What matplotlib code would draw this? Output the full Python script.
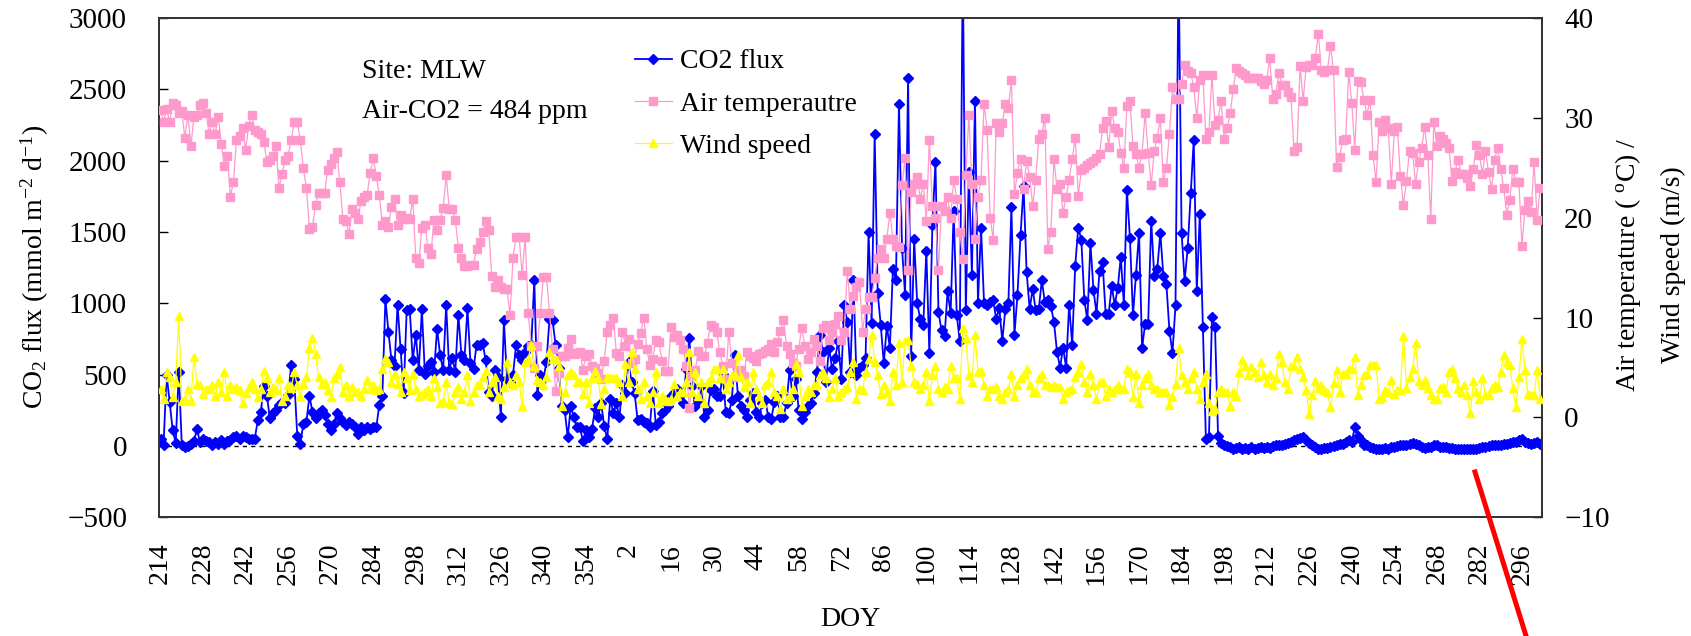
import matplotlib
matplotlib.use('Agg')
import matplotlib.pyplot as plt
from matplotlib.lines import Line2D

plt.rcParams['font.family'] = ['Liberation Serif', 'DejaVu Serif']
plt.rcParams['mathtext.fontset'] = 'custom'
plt.rcParams['mathtext.rm'] = 'Liberation Serif'
plt.rcParams['mathtext.it'] = 'Liberation Serif:italic'

# Day of year: DOY 214-366 of the first year, then DOY 1-302 of the next year
doy = list(range(214, 367)) + list(range(1, 303))

co2_flux = [
    50, 10, 500, 310, 110, 20, 520, 10, -10, 0,
    15, 35, 120, 25, 50, 35, 25, 10, 25, 15,
    45, 15, 35, 45, 60, 70, 50, 70, 60, 50,
    50, 50, 180, 240, 420, 350, 195, 230, 250, 290,
    310, 300, 360, 565, 470, 70, 15, 155, 170, 350,
    240, 195, 230, 250, 215, 155, 110, 155, 230, 195,
    170, 145, 170, 155, 135, 85, 135, 110, 135, 120,
    130, 130, 290, 350, 1030, 800, 600, 560, 990, 680,
    370, 950, 960, 600, 780, 530, 960, 506, 560, 590,
    520, 820, 640, 530, 990, 530, 615, 520, 920, 640,
    600, 965, 580, 540, 710, 710, 720, 600, 375, 350,
    530, 480, 205, 880, 470, 450, 500, 710, 640, 600,
    660, 700, 710, 1160, 360, 500, 470, 590, 890, 880,
    710, 550, 280, 250, 60, 280, 200, 130, 130, 36,
    110, 60, 120, 265, 205, 300, 140, 48, 330, 230,
    300, 200, 430, 370, 590, 450, 370, 180, 190, 170,
    160, 135, 385, 150, 170, 230, 250, 280, 350, 370,
    400, 375, 300, 540, 760, 420, 280, 320, 420, 200,
    250, 390, 400, 350, 350, 505, 240, 230, 320, 640,
    350, 280, 250, 205, 320, 370, 240, 205, 300, 320,
    205, 190, 310, 350, 205, 205, 300, 530, 350, 470,
    255, 190, 240, 280, 300, 370, 520, 780, 660, 450,
    690, 540, 615, 735, 470, 990, 870, 520, 1160, 500,
    550, 570, 615, 1500, 860, 2190, 1070, 850, 580, 840,
    690, 1240, 1160, 2400, 1390, 1060, 2580, 630, 1450, 1000,
    890, 850, 1370, 650, 1550, 1990, 940, 810, 770, 1085,
    930, 1650, 920, 735, 3400, 950, 1920, 1200, 2420, 1000,
    1530, 1000, 990, 1010, 1020, 890, 970, 735, 960, 1000,
    1675, 780, 1060, 1480, 1820, 1220, 960, 1100, 950, 960,
    1160, 1010, 1020, 980, 870, 660, 550, 690, 550, 990,
    710, 1265, 1530, 1446, 1024, 880, 1422, 1096, 928, 1229,
    1289, 928, 928, 1120, 988, 1108, 1326, 988, 1795, 1458,
    916, 1200, 1494, 687, 856, 856, 1579, 1193, 1241, 1494,
    1193, 1133, 807, 651, 988, 3400, 1494, 1157, 1386, 1771,
    2145, 1085, 1627, 831, 48, 60, 904, 831, 72, 20,
    10, 0, -10, -20, -15, -5, -20, -15, -20, -10,
    -20, -15, -5, -15, -10, -15, 0, 5, 5, 10,
    15, 20, 30, 40, 50, 55, 62, 45, 20, 10,
    -10, -20, -20, -15, -15, -5, 0, 10, 15, 15,
    25, 40, 30, 130, 70, 40, 10, 5, -5, -15,
    -20, -20, -20, -15, -20, -10, -5, 0, 5, 5,
    10, 15, 20, 15, 5, -5, -15, -10, -5, 5,
    5, -5, -5, -10, -15, -15, -20, -20, -20, -20,
    -20, -20, -20, -20, -15, -10, -5, 0, 5, 5,
    10, 10, 15, 15, 20, 25, 30, 40, 50, 30,
    20, 15, 20, 25, 15,
]

air_temp = [
    30.8, 29.6, 30.9, 29.6, 31.5, 31.3, 30.5, 30.7, 28.0, 30.3,
    27.2, 30.1, 30.3, 31.3, 31.5, 30.5, 28.4, 29.6, 28.4, 30.1,
    27.4, 25.2, 26.2, 22.1, 23.6, 27.8, 28.2, 29.0, 26.8, 29.2,
    30.3, 28.8, 28.6, 28.4, 27.6, 25.6, 25.8, 26.2, 27.2, 23.0,
    24.4, 25.8, 26.2, 27.8, 29.6, 29.6, 27.8, 25.0, 23.0, 18.9,
    19.1, 21.3, 22.5, 22.5, 22.5, 24.8, 25.4, 26.0, 26.6, 23.6,
    19.9, 19.7, 18.4, 20.9, 20.5, 19.9, 21.7, 22.1, 22.3, 24.5,
    26.0, 24.2, 22.3, 19.3, 19.7, 19.1, 21.1, 21.9, 19.3, 20.3,
    19.9, 20.0, 19.9, 21.9, 16.0, 15.5, 19.0, 19.3, 17.0, 16.4,
    19.8, 18.8, 19.8, 21.0, 24.3, 20.9, 20.9, 19.8, 17.0, 16.0,
    15.2, 15.2, 15.3, 15.3, 16.9, 17.6, 18.6, 19.7, 18.8, 14.2,
    13.1, 13.8, 13.1, 12.9, 12.9, 10.3, 16.0, 18.1, 18.1, 14.3,
    18.1, 10.5, 7.2, 5.0, 7.2, 10.5, 14.1, 14.1, 10.5, 6.9,
    2.6, 4.5, 6.2, 6.2, 7.0, 7.9, 6.4, 6.5, 6.6, 4.8,
    6.2, 6.4, 5.2, 5.0, 4.5, 3.8, 5.7, 8.6, 9.3, 10.0,
    6.5, 6.2, 8.6, 7.2, 7.9, 5.5, 5.9, 7.4, 8.5, 10.0,
    6.9, 5.3, 5.9, 7.8, 7.6, 5.7, 4.7, 4.7, 9.1, 8.1,
    8.3, 7.8, 6.9, 5.2, 0.9, 4.1, 4.8, 6.7, 6.2, 6.2,
    7.5, 9.3, 9.1, 8.6, 6.6, 5.2, 3.8, 8.6, 5.5, 4.0,
    4.7, 4.8, 4.1, 6.6, 6.2, 6.0, 5.7, 6.4, 6.5, 6.7,
    6.9, 7.4, 6.6, 7.6, 8.7, 9.8, 7.2, 6.4, 5.5, 5.2,
    6.9, 9.0, 7.2, 5.9, 6.6, 7.9, 7.2, 5.7, 9.0, 9.3,
    7.8, 8.6, 9.4, 10.2, 7.8, 8.6, 14.7, 10.9, 12.2, 13.1,
    13.6, 8.6, 10.9, 12.1, 12.1, 14.0, 16.0, 16.9, 16.0, 17.9,
    20.5, 17.9, 17.2, 17.1, 23.3, 26.0, 14.8, 22.6, 23.4, 24.1,
    21.9, 23.4, 19.7, 27.8, 21.2, 20.0, 14.8, 21.2, 20.7, 22.1,
    20.0, 23.8, 21.9, 18.6, 15.9, 24.3, 30.3, 23.4, 17.9, 22.1,
    23.8, 31.4, 28.8, 20.0, 17.8, 29.5, 28.6, 29.5, 31.4, 31.0,
    33.8, 22.4, 24.5, 25.9, 22.9, 25.7, 24.1, 21.2, 23.8, 27.9,
    28.4, 30.0, 16.9, 18.6, 25.9, 22.9, 23.4, 20.5, 22.1, 23.8,
    25.9, 28.0, 22.2, 24.8, 25.0, 25.3, 25.5, 25.7, 26.0, 26.4,
    29.0, 29.7, 27.1, 30.7, 29.0, 28.6, 26.5, 25.0, 31.2, 31.7,
    27.2, 26.4, 25.0, 26.4, 30.5, 26.5, 23.3, 26.7, 28.0, 30.0,
    23.6, 25.0, 28.4, 33.1, 31.9, 31.9, 33.4, 35.3, 34.7, 34.5,
    33.1, 30.0, 33.8, 34.3, 27.9, 28.6, 34.3, 29.3, 29.8, 31.7,
    27.9, 29.0, 30.5, 32.9, 35.0, 34.7, 34.5, 34.3, 34.0, 34.0,
    34.0, 34.0, 33.7, 33.4, 33.8, 36.0, 31.9, 32.4, 34.5, 33.3,
    33.3, 32.6, 32.1, 26.7, 27.1, 35.2, 31.7, 35.1, 35.3, 35.3,
    36.0, 38.4, 34.8, 34.6, 34.8, 37.2, 34.8, 25.1, 26.1, 27.8,
    27.9, 34.6, 31.5, 26.8, 33.7, 33.6, 31.8, 30.3, 31.8, 26.3,
    23.6, 29.6, 28.7, 29.8, 29.0, 23.4, 28.7, 29.1, 24.2, 21.3,
    23.7, 26.7, 26.5, 23.4, 25.6, 27.0, 29.1, 26.3, 19.9, 29.6,
    27.2, 28.2, 27.9, 27.5, 27.0, 23.7, 24.6, 25.8, 24.4, 24.4,
    24.0, 23.2, 24.9, 27.3, 26.3, 24.4, 26.7, 24.6, 22.9, 25.8,
    27.0, 24.9, 23.0, 20.3, 21.8, 24.9, 23.6, 23.6, 17.2, 20.8,
    21.7, 20.6, 25.6, 19.8, 23.0,
]

wind_speed = [
    2.8, 1.8, 4.6, 4.0, 2.0, 3.5, 10.2, 1.6, 1.8, 2.8,
    1.6, 6.1, 3.3, 3.2, 2.3, 2.8, 2.8, 3.2, 2.1, 3.5,
    2.5, 4.6, 2.1, 3.2, 2.8, 3.0, 2.7, 1.4, 2.4, 3.0,
    3.5, 2.8, 2.0, 2.8, 4.7, 3.9, 2.5, 3.0, 2.7, 3.9,
    1.6, 2.1, 3.2, 2.9, 4.6, 3.2, 2.1, 3.3, 4.0, 7.0,
    8.0, 6.4, 4.0, 3.3, 3.5, 2.7, 2.0, 3.9, 4.4, 5.1,
    2.5, 3.2, 2.1, 3.0, 2.5, 2.5, 2.1, 2.8, 3.7, 2.8,
    3.2, 2.7, 2.8, 4.9, 5.9, 5.6, 3.5, 4.4, 3.3, 2.5,
    4.6, 3.9, 2.7, 4.4, 2.8, 2.1, 2.3, 2.5, 2.8, 2.1,
    3.9, 3.0, 1.4, 1.6, 3.5, 1.4, 1.3, 2.5, 3.0, 1.8,
    2.5, 4.2, 1.6, 2.5, 3.2, 3.2, 4.0, 4.7, 2.5, 3.5,
    4.0, 2.1, 1.8, 3.0, 5.6, 3.5, 3.2, 4.2, 3.5, 1.1,
    5.6, 5.9, 7.3, 5.2, 3.7, 3.5, 3.2, 4.0, 6.6, 5.9,
    5.9, 5.2, 1.1, 2.5, 4.2, 4.6, 4.2, 3.5, 3.5, 2.3,
    3.5, 1.4, 3.9, 4.7, 3.9, 1.3, 2.8, 4.0, 3.9, 3.9,
    3.9, 3.5, 2.1, 5.4, 3.5, 6.6, 4.9, 2.8, 1.8, 3.5,
    2.1, 1.4, 2.5, 4.6, 1.4, 2.1, 1.8, 1.6, 1.8, 3.3,
    2.1, 2.5, 2.5, 3.5, 6.6, 2.5, 4.6, 2.1, 3.5, 1.4,
    3.5, 3.9, 4.9, 4.9, 3.9, 4.9, 2.8, 3.5, 4.2, 4.2,
    6.3, 4.0, 3.0, 3.5, 1.4, 4.6, 2.8, 2.1, 1.4, 3.2,
    3.5, 4.6, 2.5, 2.1, 0.8, 2.8, 1.8, 2.1, 2.8, 5.4,
    4.6, 1.1, 2.1, 2.8, 2.5, 3.2, 3.2, 4.2, 4.6, 3.9,
    2.0, 2.8, 3.9, 2.1, 2.5, 2.8, 3.0, 4.6, 5.6, 1.8,
    2.8, 2.7, 4.6, 5.9, 8.3, 5.6, 4.2, 2.3, 3.2, 2.5,
    1.6, 4.6, 3.2, 7.5, 3.5, 7.7, 7.8, 5.2, 3.5, 3.3,
    2.8, 3.2, 4.6, 1.6, 4.2, 5.2, 2.8, 2.5, 3.0, 2.8,
    5.2, 3.9, 3.9, 1.8, 9.0, 8.0, 4.2, 3.5, 8.3, 4.6,
    4.7, 3.2, 2.1, 2.8, 2.8, 3.0, 2.1, 1.8, 2.5, 2.8,
    4.4, 2.1, 3.2, 3.9, 4.4, 4.9, 3.2, 2.5, 2.5, 3.9,
    4.4, 3.2, 3.2, 3.0, 3.2, 3.0, 3.0, 1.8, 2.5, 2.7,
    2.8, 4.0, 4.6, 5.4, 3.5, 2.5, 4.4, 3.2, 1.8, 3.5,
    3.5, 2.1, 2.8, 2.5, 2.8, 3.2, 2.8, 2.8, 4.9, 4.6,
    2.0, 4.4, 1.4, 3.2, 3.9, 4.4, 3.2, 2.8, 2.8, 2.5,
    2.5, 2.5, 1.2, 2.1, 3.3, 7.0, 4.2, 3.5, 2.8, 3.9,
    4.6, 2.8, 1.8, 3.5, 4.4, 1.4, 0.6, 0.8, 2.5, 2.8,
    2.5, 2.5, 1.1, 2.5, 2.1, 4.6, 5.8, 5.2, 4.2, 5.1,
    4.6, 4.0, 5.6, 4.2, 3.5, 4.4, 3.2, 3.9, 6.4, 5.6,
    3.5, 2.8, 5.2, 5.2, 6.1, 4.9, 4.0, 2.7, 0.3, 2.2,
    3.6, 2.9, 3.2, 2.7, 2.5, 1.0, 3.4, 4.8, 2.5, 4.4,
    4.4, 4.9, 4.9, 6.1, 2.2, 3.2, 4.2, 4.4, 5.3, 5.3,
    5.3, 1.8, 2.0, 2.7, 2.5, 3.7, 2.3, 2.7, 2.7, 8.2,
    2.9, 4.0, 4.9, 7.5, 3.6, 3.2, 3.7, 2.9, 2.2, 1.8,
    1.8, 2.9, 3.0, 2.5, 4.6, 4.9, 3.9, 2.9, 2.5, 3.2,
    2.2, 0.4, 3.6, 2.5, 1.8, 3.9, 2.2, 2.2, 2.9, 3.2,
    3.0, 4.6, 6.3, 5.6, 5.3, 2.9, 1.0, 4.0, 7.9, 4.8,
    2.3, 2.2, 2.2, 4.8, 1.8,
]

label_step = 14
W, H = 1691, 636

fig = plt.figure(figsize=(W / 100, H / 100), dpi=100)
ax = fig.add_axes([159 / W, 1 - 517.3 / H, (1542 - 159) / W, (517.3 - 18) / H])

x = list(range(len(doy)))

ax.axhline(0, color='black', lw=1.0, ls=(0, (3, 3)), zorder=1)
l1, = ax.plot(x, co2_flux, color='#0000FF', lw=1.3, marker='D', ms=4.6,
              mfc='#0000FF', mec='#0000FF', zorder=3, label='CO2 flux')

ax2 = ax.twinx()
l2, = ax2.plot(x, air_temp, color='#FF99CC', lw=0.9, marker='s', ms=5.2,
               mfc='#FF99CC', mec='#FF99CC', zorder=3, label='Air temperautre')
l3, = ax2.plot(x, wind_speed, color='#FFFF00', lw=0.9, marker='^', ms=6,
               mfc='#FFFF00', mec='#FFFF00', zorder=4, label='Wind speed')

ax.set_xlim(-0.5, 454.6)
ax.set_ylim(-500, 3000)
ax2.set_ylim(-10, 40)
ax.set_yticks(list(range(-500, 3001, 500)))
ax2.set_yticks(list(range(-10, 41, 10)))
ax.set_xticks(x[::label_step])
ax.set_xticklabels([str(d) for d in doy[::label_step]], rotation=90)

ax.tick_params(axis='x', length=0, pad=18.5, labelsize=20)
ax.tick_params(axis='y', direction='in', length=6.5, width=1.0, pad=23, labelsize=21)
ax2.tick_params(axis='y', direction='in', length=6.5, width=1.0, pad=16, labelsize=21)

for a in (ax, ax2):
    for s in a.spines.values():
        s.set_color('#333333')
        s.set_linewidth(1.3)

ax.text((361.7 - 159) / 1383, 0.893, 'Site: MLW', transform=ax.transAxes,
        fontsize=20, va='center', ha='left')
ax.text((361.7 - 159) / 1383, 0.813, 'Air-CO2 = 484 ppm', transform=ax.transAxes,
        fontsize=20, va='center', ha='left')

leg = ax2.legend([l1, l2, l3], ['CO2 flux', 'Air temperautre', 'Wind speed'],
                 loc='upper left', bbox_to_anchor=((635 - 159) / 1383, 0.938),
                 frameon=False, fontsize=20, handlelength=1.33, handletextpad=0.3,
                 borderpad=0, borderaxespad=0, labelspacing=0.6)

fig.text(34.5 / W, 1 - 267 / H, r'CO$_2$ flux (mmol m$^{-2}$ d$^{-1}$)',
         rotation=90, ha='center', va='center', fontsize=20)
fig.text(1628 / W, 1 - 265 / H, r'Air temperature ( $^{\mathrm{o}}$C) /',
         rotation=90, ha='center', va='center', fontsize=20)
fig.text(1673 / W, 1 - 265 / H, 'Wind speed (m/s)',
         rotation=90, ha='center', va='center', fontsize=20)
fig.text(850 / W, 1 - 620 / H, 'DOY', ha='center', va='center', fontsize=20)

fig.add_artist(Line2D([1475 / W, 1532 / W], [1 - 472 / H, 1 - 655 / H],
                      color='red', lw=3.6, transform=fig.transFigure))

fig.savefig('out.png', dpi=100)
